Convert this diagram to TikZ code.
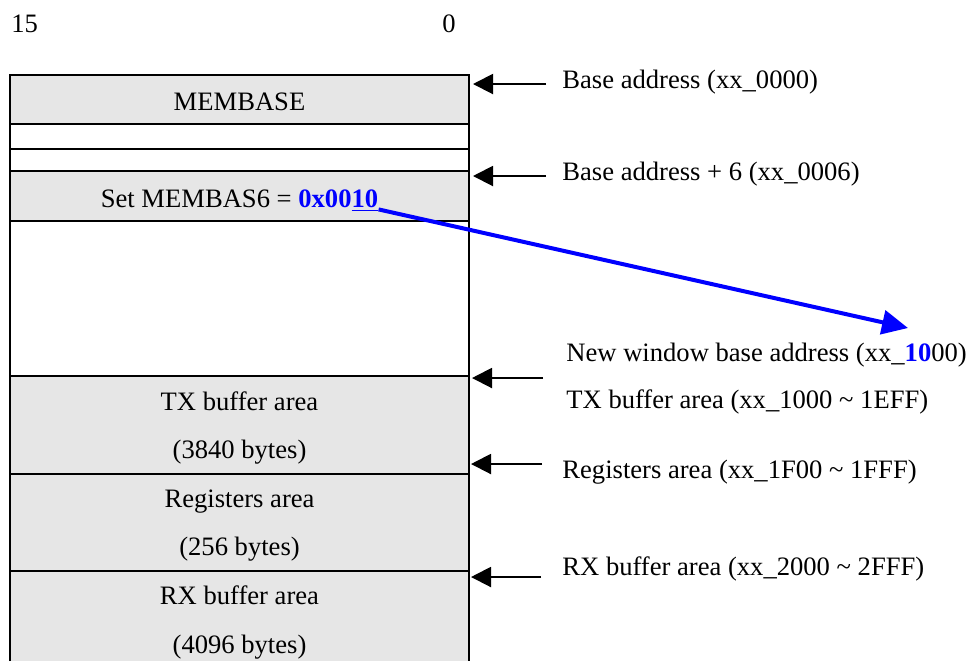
\documentclass[tikz,border=0pt]{standalone}
\usepackage{fontspec}
\setmainfont{Liberation Serif}
\usetikzlibrary{arrows.meta}
\definecolor{boxgray}{HTML}{E6E6E6}
\definecolor{hiblue}{HTML}{0000FF}
\newcommand{\diagfont}{\fontsize{13.3pt}{16pt}\selectfont}
\begin{document}
\begin{tikzpicture}[x=0.5pt,y=-0.5pt,
  edge/.style={draw=black, line width=1pt},
  lbl/.style={anchor=base west, inner sep=0pt, font=\diagfont},
  ctr/.style={anchor=base, inner sep=0pt, font=\diagfont},
  ptr/.style={-{Triangle[length=10pt,width=10pt]}, line width=1pt},
  blueptr/.style={hiblue, -{Triangle[length=13pt,width=12pt]}, line width=2pt},
  ]
\useasboundingbox (0,0) rectangle (968,661);
% gray fills
\fill[boxgray] (10,75) rectangle (469,124);
\fill[boxgray] (10,171) rectangle (469,221);
\fill[boxgray] (10,376) rectangle (469,661);
% outline and separators
\draw[edge] (10,661) -- (10,75) -- (469,75) -- (469,661);
\foreach \yy in {124,149,171,221,376,474,571}
  \draw[edge] (10,\yy) -- (469,\yy);
% bit labels
\node[lbl] (b15) at (11,32) {15};
\node[ctr] (b0) at (449,32) {0};
% row texts
\node[ctr] (membase) at (239.5,110) {MEMBASE};
\node[ctr] (set) at (239.5,207) {Set MEMBAS6 = {\color{hiblue}\bfseries 0x00\underline{10}}};
\node[ctr] (tx1) at (239.5,410) {TX buffer area};
\node[ctr] (tx2) at (239.5,458) {(3840 bytes)};
\node[ctr] (rg1) at (239.5,507) {Registers area};
\node[ctr] (rg2) at (239.5,555) {(256 bytes)};
\node[ctr] (rx1) at (239.5,604) {RX buffer area};
\node[ctr] (rx2) at (239.5,653) {(4096 bytes)};
% right labels
\node[lbl] (l1) at (562,88) {Base address (xx\_0000)};
\node[lbl] (l2) at (562,180) {Base address + 6 (xx\_0006)};
\node[lbl] (l3) at (566,361) {New window base address (xx\_{\color{hiblue}\bfseries 10}00)};
\node[lbl] (l4) at (566,408) {TX buffer area (xx\_1000 \textasciitilde{} 1EFF)};
\node[lbl] (l5) at (562,478) {Registers area (xx\_1F00 \textasciitilde{} 1FFF)};
\node[lbl] (l6) at (562,575) {RX buffer area (xx\_2000 \textasciitilde{} 2FFF)};
% arrow endpoints
\coordinate (s1) at (546,84);  \coordinate (e1) at (473,84);
\coordinate (s2) at (546,176); \coordinate (e2) at (473,176);
\coordinate (s3) at (543,378); \coordinate (e3) at (472,378);
\coordinate (s4) at (542,464); \coordinate (e4) at (471,464);
\coordinate (s5) at (541,577); \coordinate (e5) at (471,577);
\coordinate (tip) at (908,328);
\draw[ptr] (s1) -- (e1);
\draw[ptr] (s2) -- (e2);
\draw[ptr] (s3) -- (e3);
\draw[ptr] (s4) -- (e4);
\draw[ptr] (s5) -- (e5);
\draw[blueptr] ([yshift=-1.2pt]set.base east) -- (tip);
\end{tikzpicture}
\end{document}
